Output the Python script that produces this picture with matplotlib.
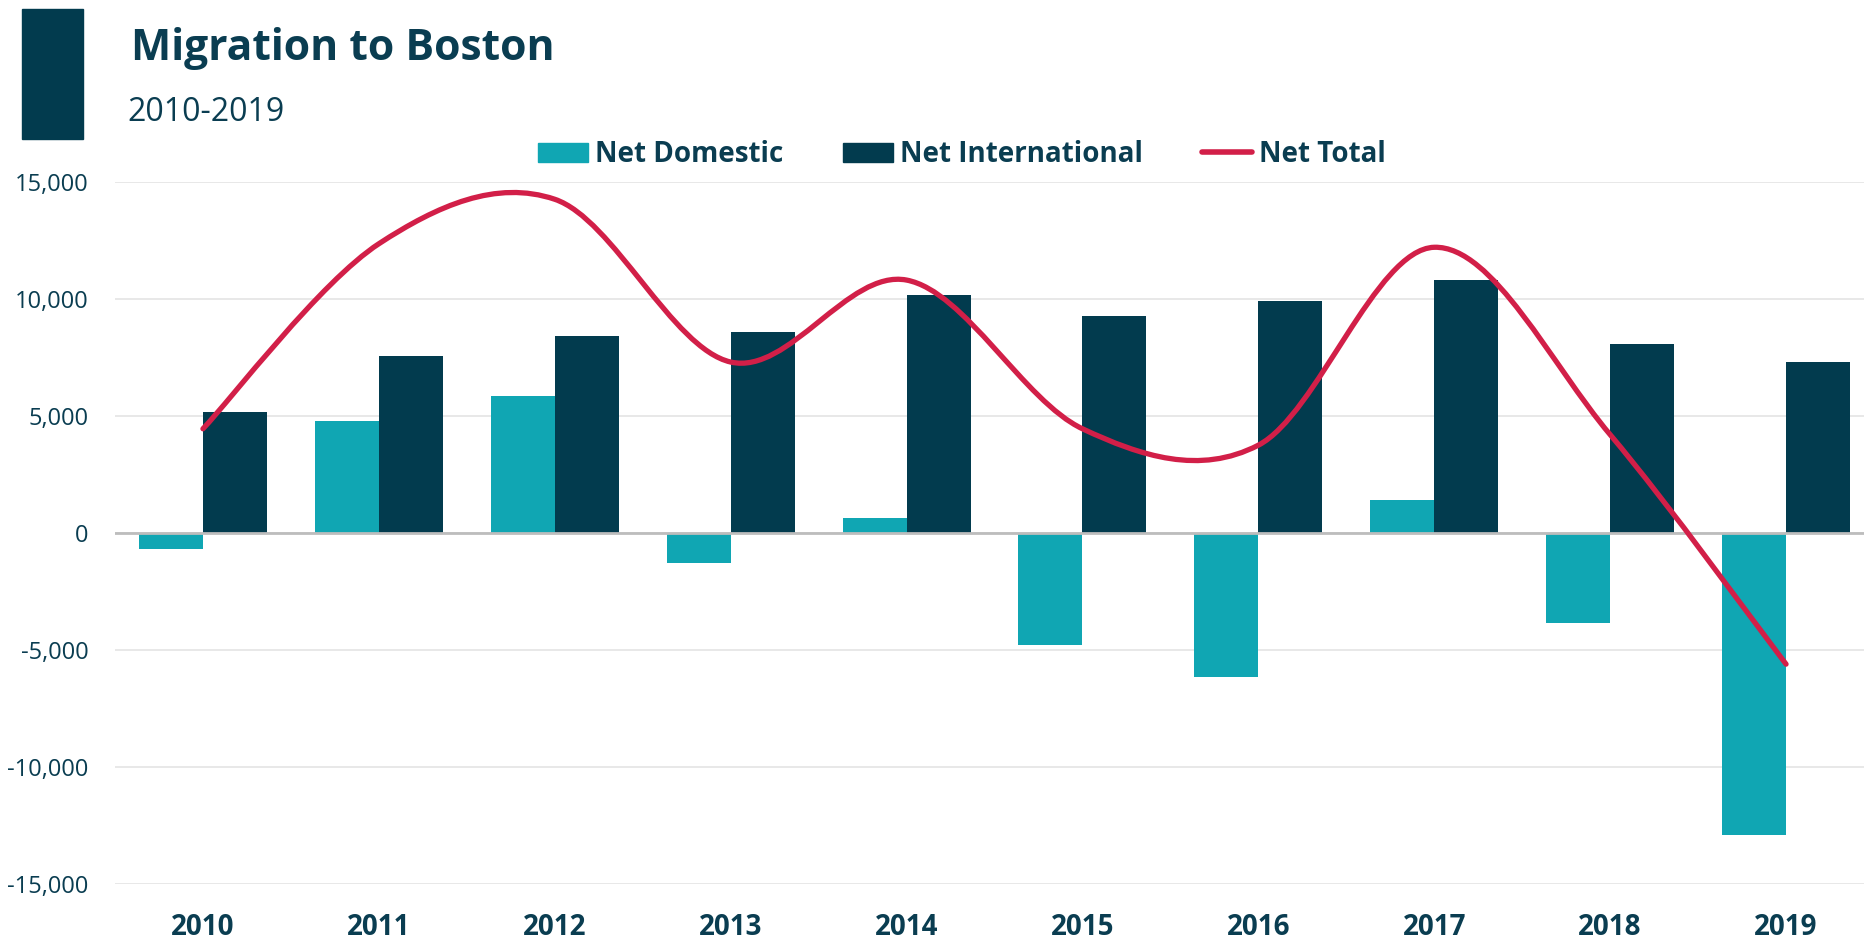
import numpy as np
import matplotlib.pyplot as plt
from matplotlib.patches import Rectangle
from matplotlib.path import Path
from matplotlib.patches import PathPatch
from matplotlib.lines import Line2D
from matplotlib.ticker import FuncFormatter

plt.rcParams['font.family'] = ['Open Sans', 'DejaVu Sans']

# Data
years = ['2010', '2011', '2012', '2013', '2014', '2015', '2016', '2017', '2018', '2019']
net_domestic = [-700, 4800, 5850, -1300, 650, -4800, -6150, 1400, -3850, -12900]
net_international = [5150, 7550, 8400, 8600, 10150, 9250, 9900, 10800, 8050, 7300]
net_total = [d + i for d, i in zip(net_domestic, net_international)]

teal = '#10A6B3'
navy = '#023B4E'
red = '#D21F48'
text_col = '#0A3D51'

W, H = 1865, 939
fig = plt.figure(figsize=(W / 100, H / 100), dpi=100)
ax = fig.add_axes([115 / W, (H - 884.3) / H, (1874 - 115) / W, (884.3 - 181.7) / H])

x = np.arange(len(years))
bw = 0.364

ax.bar(x - bw / 2, net_domestic, width=bw, color=teal, label='Net Domestic', zorder=2)
ax.bar(x + bw / 2, net_international, width=bw, color=navy, label='Net International', zorder=2)

# smoothed line (Catmull-Rom style Bezier through the totals)
pts = np.column_stack([x, net_total]).astype(float)
verts = [pts[0]]
codes = [Path.MOVETO]
n = len(pts)
for k in range(n - 1):
    p0 = pts[k - 1] if k > 0 else pts[k]
    p1 = pts[k]
    p2 = pts[k + 1]
    p3 = pts[k + 2] if k + 2 < n else pts[k + 1]
    c1 = p1 + (p2 - p0) / 6
    c2 = p2 - (p3 - p1) / 6
    verts += [c1, c2, p2]
    codes += [Path.CURVE4] * 3
path = Path(verts, codes)
ax.add_patch(PathPatch(path, facecolor='none', edgecolor=red, lw=3.8,
                       capstyle='round', joinstyle='round', zorder=3))

ax.set_xlim(-0.5, 9.5)
ax.set_ylim(-15000, 15000)
ax.set_yticks(np.arange(-15000, 15001, 5000))
ax.yaxis.set_major_formatter(FuncFormatter(lambda v, p: '{:,}'.format(int(v))))
ax.set_xticks(x)
ax.set_xticklabels(years, fontweight='bold', fontsize=20, color=text_col)
ax.tick_params(axis='x', length=0, pad=20.5)
ax.tick_params(axis='y', length=0, pad=19, labelsize=17, labelcolor=text_col)

for s in ax.spines.values():
    s.set_visible(False)
ax.grid(axis='y', color='#E6E6E6', lw=1.3, zorder=0)
ax.set_axisbelow(True)
ax.axhline(0, color='#BDBDBD', lw=2, zorder=2.5)

# header
fig.patches.append(Rectangle((22 / W, 1 - 139 / H), 61 / W, 130 / H,
                             transform=fig.transFigure, color=navy))
fig.text(131 / W, 1 - 60 / H, 'Migration to Boston', fontsize=30.7, fontweight='bold',
         color=text_col, va='baseline')
fig.text(127 / W, 1 - 121 / H, '2010-2019', fontsize=23, color=text_col, va='baseline')

handles = [
    Rectangle((0, 0), 1, 1, color=teal),
    Rectangle((0, 0), 1, 1, color=navy),
    Line2D([0], [0], color=red, lw=4, solid_capstyle='round'),
]
leg = fig.legend(handles, ['Net Domestic', 'Net International', 'Net Total'],
                 loc='center', bbox_to_anchor=(962 / W, 1 - 154.5 / H), ncol=3,
                 frameon=False, handlelength=1.8, handleheight=0.65, handletextpad=0.25,
                 columnspacing=2.15, borderpad=0,
                 prop={'weight': 'bold', 'size': 20})
for t in leg.get_texts():
    t.set_color(text_col)

fig.savefig('out.png', dpi=100)
